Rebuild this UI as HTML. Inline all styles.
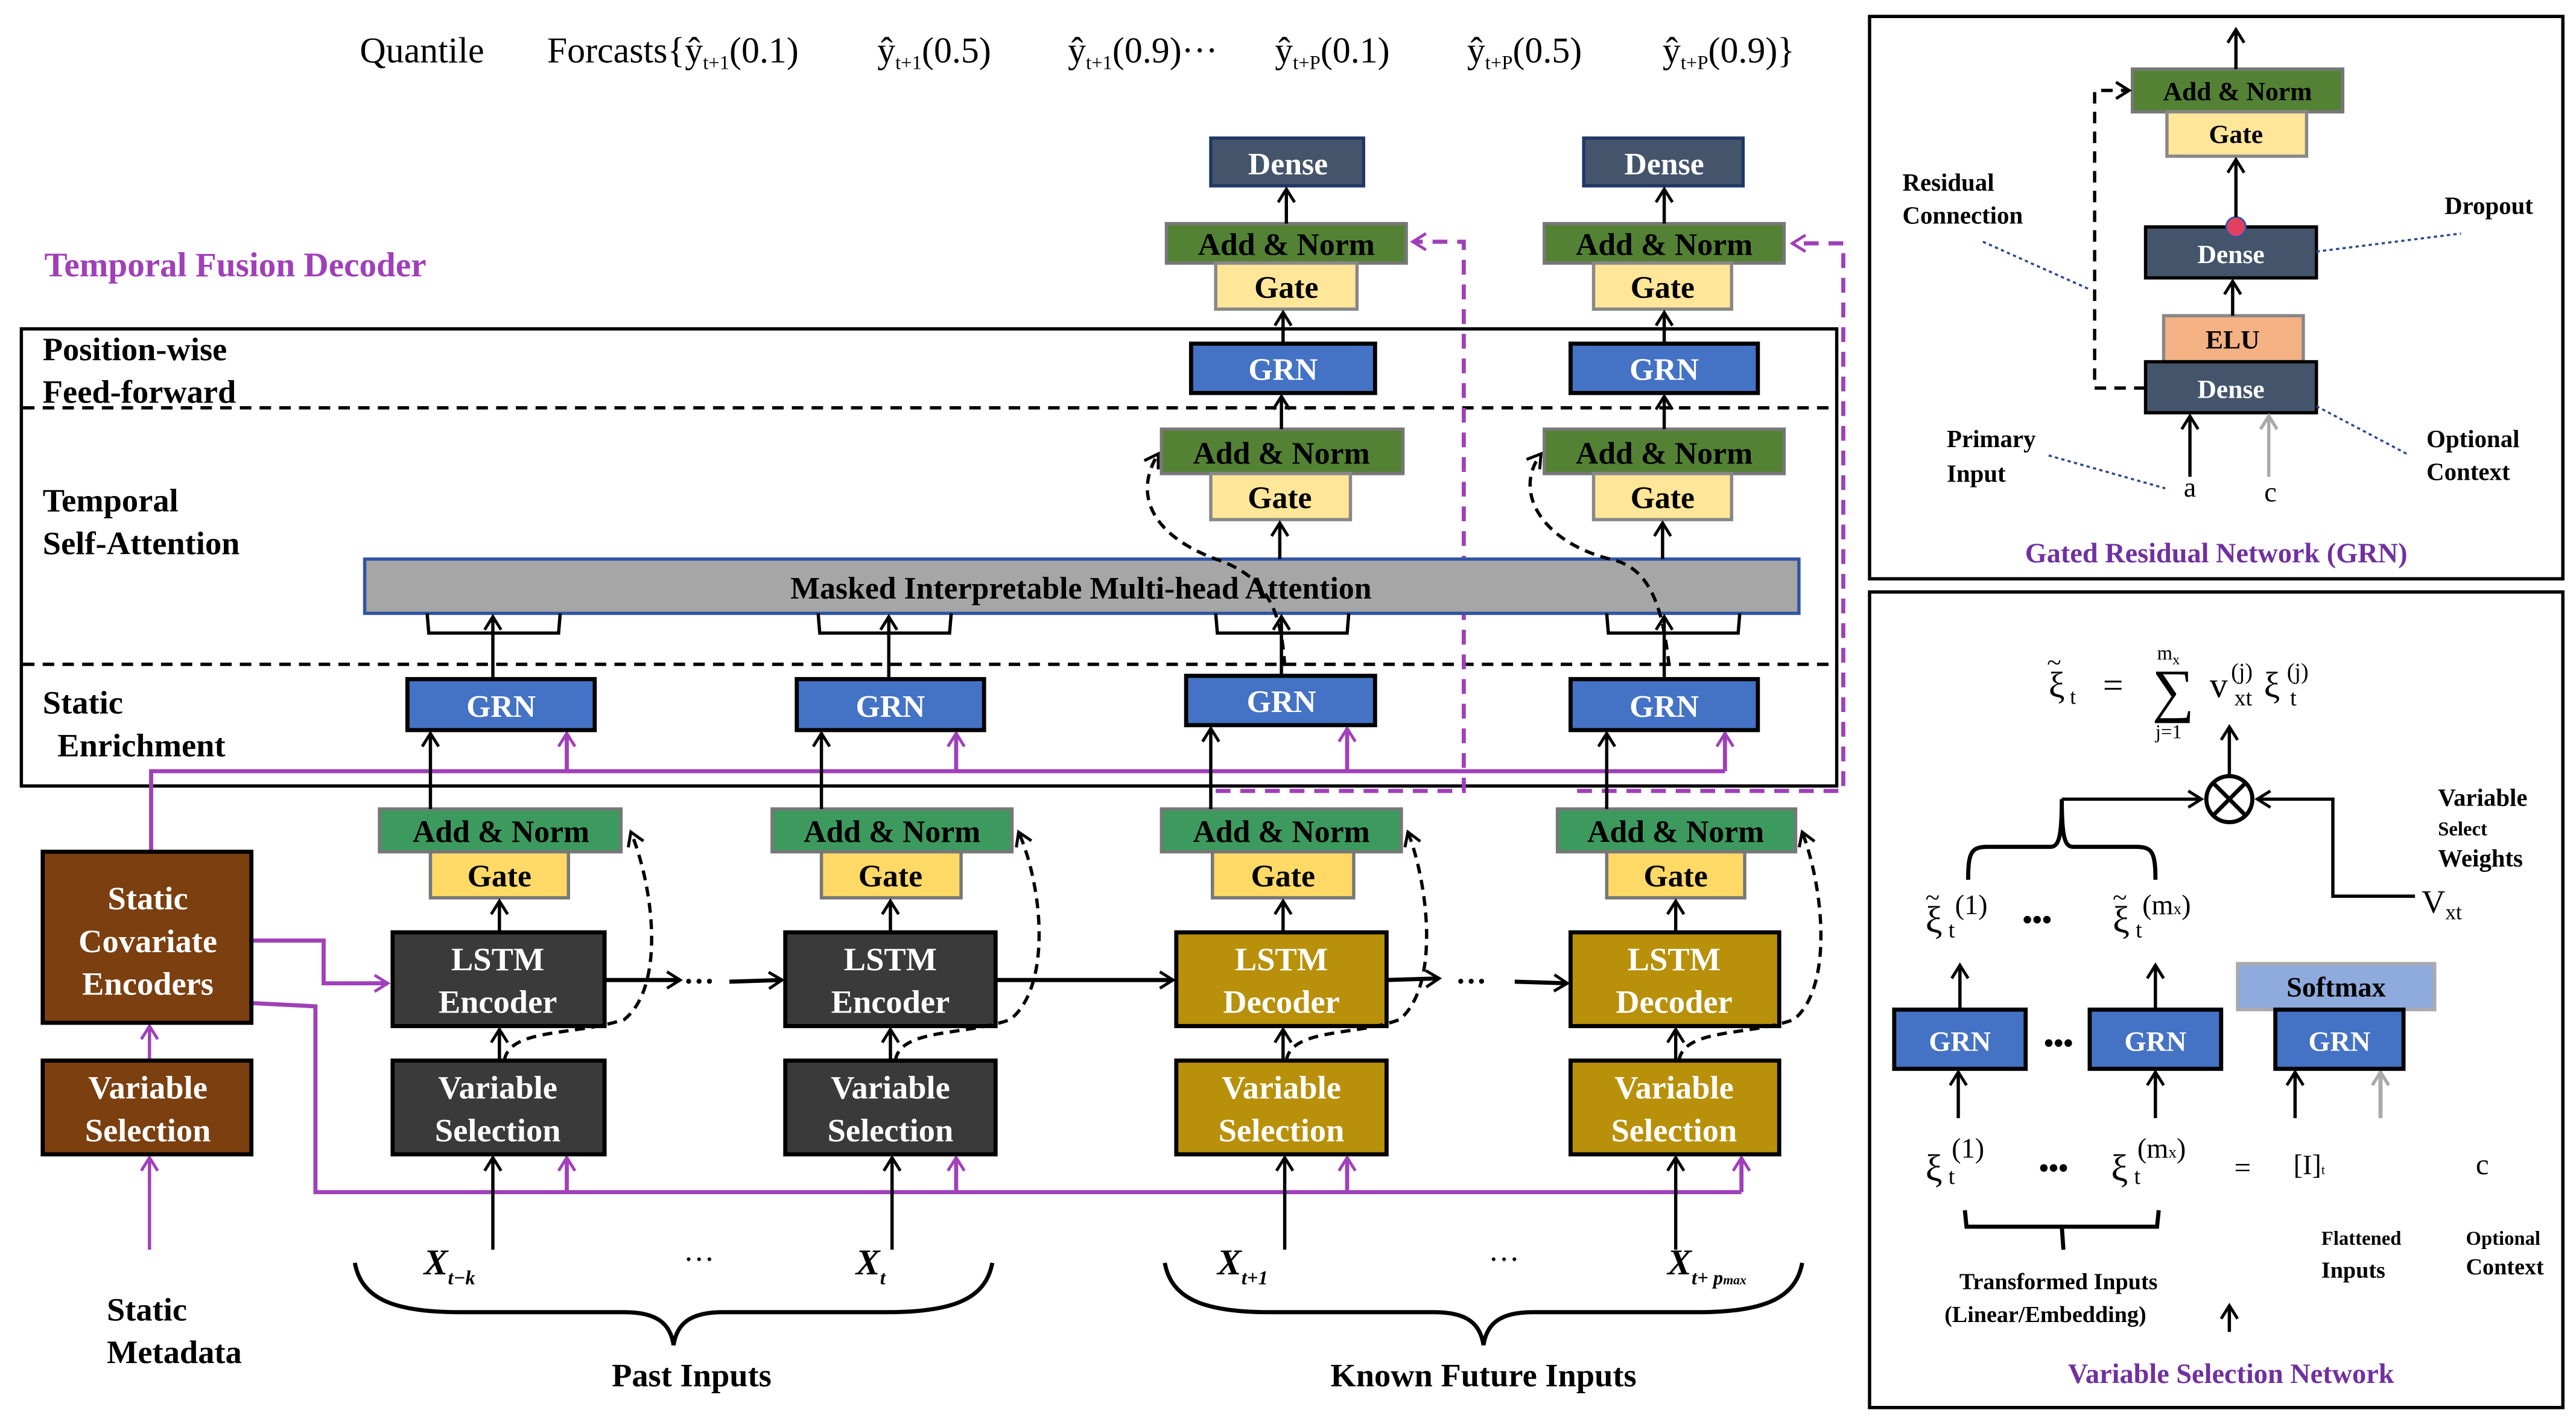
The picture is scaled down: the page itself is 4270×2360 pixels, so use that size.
<!DOCTYPE html>
<html><head><meta charset="utf-8"><style>
html,body{margin:0;padding:0;background:#fff}
svg{display:block}
text{font-family:"Liberation Serif",serif}
.b{font-weight:bold}
</style></head><body>
<svg width="4270" height="2360" viewBox="0 0 1568 866" preserveAspectRatio="none" xmlns="http://www.w3.org/2000/svg">
<defs>
<marker id="a" markerUnits="userSpaceOnUse" markerWidth="12" markerHeight="12" refX="10" refY="6" orient="auto"><path d="M2,1 L10,6 L2,11" fill="none" stroke="#000" stroke-width="1.8"/></marker>
<marker id="m" markerUnits="userSpaceOnUse" markerWidth="12" markerHeight="12" refX="10" refY="6" orient="auto"><path d="M2,1 L10,6 L2,11" fill="none" stroke="#a040b8" stroke-width="1.8"/></marker>
<marker id="g" markerUnits="userSpaceOnUse" markerWidth="12" markerHeight="12" refX="10" refY="6" orient="auto"><path d="M2,1 L10,6 L2,11" fill="none" stroke="#aaa" stroke-width="2"/></marker>
</defs>

<!-- Title row -->
<g font-size="22">
<text x="219" y="38">Quantile</text>
<text x="333" y="38">Forcasts{ŷ<tspan font-size="12" dy="4">t+1</tspan><tspan dy="-4">(0.1)</tspan></text>
<text x="534" y="38">ŷ<tspan font-size="12" dy="4">t+1</tspan><tspan dy="-4">(0.5)</tspan></text>
<text x="650" y="38">ŷ<tspan font-size="12" dy="4">t+1</tspan><tspan dy="-4">(0.9)···</tspan></text>
<text x="776" y="38">ŷ<tspan font-size="12" dy="4">t+P</tspan><tspan dy="-4">(0.1)</tspan></text>
<text x="893" y="38">ŷ<tspan font-size="12" dy="4">t+P</tspan><tspan dy="-4">(0.5)</tspan></text>
<text x="1012" y="38">ŷ<tspan font-size="12" dy="4">t+P</tspan><tspan dy="-4">(0.9)}</tspan></text>
</g>

<text x="27" y="168" class="b" font-size="21" fill="#a040b8">Temporal Fusion Decoder</text>

<!-- big box -->
<rect x="13" y="200" width="1105" height="278" fill="none" stroke="#000" stroke-width="2"/>
<line x1="14" y1="248" x2="1117" y2="248" stroke="#000" stroke-width="2" stroke-dasharray="7,5"/>
<line x1="14" y1="404" x2="1117" y2="404" stroke="#000" stroke-width="2" stroke-dasharray="7,5"/>
<g class="b" font-size="20">
<text x="26" y="219">Position-wise</text><text x="26" y="245">Feed-forward</text>
<text x="26" y="311">Temporal</text><text x="26" y="337">Self-Attention</text>
<text x="26" y="434">Static</text><text x="35" y="460">Enrichment</text>
</g>

<!-- magenta lines -->
<g stroke="#a040b8" stroke-width="2.5" fill="none">
<polyline points="92,518 92,469 1050,469"/>
<line x1="345" y1="469" x2="345" y2="446" marker-end="url(#m)"/>
<line x1="582" y1="469" x2="582" y2="446" marker-end="url(#m)"/>
<line x1="820" y1="469" x2="820" y2="443" marker-end="url(#m)"/>
<line x1="1050" y1="469" x2="1050" y2="446" marker-end="url(#m)"/>
<polyline points="153,572 197,572 197,598 236,598" marker-end="url(#m)"/>
<polyline points="153,610 192,612 192,725 1060,725"/>
<line x1="345" y1="725" x2="345" y2="704" marker-end="url(#m)"/>
<line x1="582" y1="725" x2="582" y2="704" marker-end="url(#m)"/>
<line x1="820" y1="725" x2="820" y2="704" marker-end="url(#m)"/>
<line x1="1060" y1="725" x2="1060" y2="704" marker-end="url(#m)"/>
<line x1="91" y1="760" x2="91" y2="704" stroke-width="2" marker-end="url(#m)"/>
<line x1="91" y1="645" x2="91" y2="624" stroke-width="2" marker-end="url(#m)"/>
</g>
<g stroke="#a040b8" stroke-width="2.5" fill="none" stroke-dasharray="9,6">
<polyline points="740,481 891,481 891,147 860,147" marker-end="url(#m)"/>
<polyline points="960,481 1122,481 1122,148 1091,148" marker-end="url(#m)"/>
</g>

<!-- Top Dense / Add&Norm / Gate / GRN -->
<g>
<rect x="737" y="84" width="93" height="29" fill="#44546a" stroke="#1f3864" stroke-width="2"/>
<rect x="964" y="84" width="97" height="29" fill="#44546a" stroke="#1f3864" stroke-width="2"/>
<rect x="710" y="136" width="146" height="24" fill="#548235" stroke="#777" stroke-width="2"/>
<rect x="940" y="136" width="146" height="24" fill="#548235" stroke="#777" stroke-width="2"/>
<rect x="740" y="160" width="86" height="28" fill="#ffe699" stroke="#888" stroke-width="2"/>
<rect x="970" y="160" width="84" height="28" fill="#ffe699" stroke="#888" stroke-width="2"/>
<rect x="725" y="209" width="112" height="30" fill="#4472c4" stroke="#000" stroke-width="2.5"/>
<rect x="956" y="209" width="114" height="30" fill="#4472c4" stroke="#000" stroke-width="2.5"/>
<rect x="707" y="261" width="147" height="27" fill="#548235" stroke="#777" stroke-width="2"/>
<rect x="940" y="261" width="146" height="27" fill="#548235" stroke="#777" stroke-width="2"/>
<rect x="737" y="288" width="85" height="28" fill="#ffe699" stroke="#888" stroke-width="2"/>
<rect x="970" y="288" width="84" height="28" fill="#ffe699" stroke="#888" stroke-width="2"/>
<rect x="222" y="340" width="873" height="33" fill="#a6a6a6" stroke="#2f55a4" stroke-width="2"/>
</g>
<g class="b" font-size="19" text-anchor="middle">
<text x="784" y="106" fill="#fff">Dense</text><text x="1013" y="106" fill="#fff">Dense</text>
<text x="783" y="155">Add &amp; Norm</text><text x="1013" y="155">Add &amp; Norm</text>
<text x="783" y="181">Gate</text><text x="1012" y="181">Gate</text>
<text x="781" y="231" fill="#fff">GRN</text><text x="1013" y="231" fill="#fff">GRN</text>
<text x="780" y="282">Add &amp; Norm</text><text x="1013" y="282">Add &amp; Norm</text>
<text x="779" y="309">Gate</text><text x="1012" y="309">Gate</text>
<text x="658" y="364">Masked Interpretable Multi-head Attention</text>
</g>
<g stroke="#000" stroke-width="2" fill="none">
<line x1="783" y1="136" x2="783" y2="115" marker-end="url(#a)"/>
<line x1="1013" y1="136" x2="1013" y2="115" marker-end="url(#a)"/>
<line x1="781" y1="209" x2="781" y2="190" marker-end="url(#a)"/>
<line x1="1013" y1="209" x2="1013" y2="190" marker-end="url(#a)"/>
<line x1="780" y1="261" x2="780" y2="241" marker-end="url(#a)"/>
<line x1="1013" y1="261" x2="1013" y2="241" marker-end="url(#a)"/>
<line x1="779" y1="340" x2="779" y2="318" marker-end="url(#a)"/>
<line x1="1012" y1="340" x2="1012" y2="318" marker-end="url(#a)"/>
<polyline points="260,373 261,385 340,385 341,373"/>
<polyline points="498,373 499,385 578,385 579,373"/>
<polyline points="740,373 741,385 820,385 821,373"/>
<polyline points="978,373 979,385 1058,385 1059,373"/>
<line x1="300" y1="413" x2="300" y2="375" marker-end="url(#a)"/>
<line x1="541" y1="413" x2="541" y2="375" marker-end="url(#a)"/>
<line x1="780" y1="411" x2="780" y2="375" marker-end="url(#a)"/>
<line x1="1013" y1="413" x2="1013" y2="375" marker-end="url(#a)"/>
</g>
<g stroke="#000" stroke-width="2" fill="none" stroke-dasharray="6,4">
<path d="M782,405 C780,370 770,350 740,340 C700,325 690,300 705,276" marker-end="url(#a)"/>
<path d="M1016,405 C1012,370 1005,345 980,340 C940,330 920,300 938,276" marker-end="url(#a)"/>
</g>

<!-- Static enrichment GRNs -->
<g fill="#4472c4" stroke="#000" stroke-width="2.5">
<rect x="248" y="413" width="114" height="31"/><rect x="485" y="413" width="114" height="31"/>
<rect x="722" y="411" width="115" height="30"/><rect x="956" y="413" width="114" height="31"/>
</g>
<g class="b" font-size="19" text-anchor="middle" fill="#fff">
<text x="305" y="436">GRN</text><text x="542" y="436">GRN</text><text x="780" y="433">GRN</text><text x="1013" y="436">GRN</text>
</g>

<!-- lower Add&Norm/Gate -->
<g stroke="#777" stroke-width="2">
<rect x="231" y="492" width="147" height="26" fill="#3d9a5e"/><rect x="470" y="492" width="146" height="26" fill="#3d9a5e"/>
<rect x="707" y="492" width="146" height="26" fill="#3d9a5e"/><rect x="948" y="492" width="145" height="26" fill="#3d9a5e"/>
<rect x="262" y="518" width="84" height="28" fill="#ffd966"/><rect x="500" y="518" width="85" height="28" fill="#ffd966"/>
<rect x="738" y="518" width="86" height="28" fill="#ffd966"/><rect x="978" y="518" width="84" height="28" fill="#ffd966"/>
</g>
<g class="b" font-size="19" text-anchor="middle">
<text x="305" y="512">Add &amp; Norm</text><text x="543" y="512">Add &amp; Norm</text><text x="780" y="512">Add &amp; Norm</text><text x="1020" y="512">Add &amp; Norm</text>
<text x="304" y="539">Gate</text><text x="542" y="539">Gate</text><text x="781" y="539">Gate</text><text x="1020" y="539">Gate</text>
</g>

<!-- LSTM & Variable Selection -->
<g stroke="#000" stroke-width="2.5">
<rect x="239" y="567" width="129" height="57" fill="#3a3a3a"/><rect x="478" y="567" width="128" height="57" fill="#3a3a3a"/>
<rect x="716" y="567" width="128" height="57" fill="#b8900a"/><rect x="956" y="567" width="127" height="57" fill="#b8900a"/>
<rect x="239" y="645" width="129" height="57" fill="#3a3a3a"/><rect x="478" y="645" width="128" height="57" fill="#3a3a3a"/>
<rect x="716" y="645" width="128" height="57" fill="#b8900a"/><rect x="956" y="645" width="127" height="57" fill="#b8900a"/>
<rect x="26" y="518" width="127" height="104" fill="#7b3f10"/><rect x="26" y="645" width="127" height="57" fill="#7b3f10"/>
</g>
<g class="b" font-size="20" text-anchor="middle" fill="#fff">
<text x="303" y="590">LSTM</text><text x="303" y="616">Encoder</text>
<text x="542" y="590">LSTM</text><text x="542" y="616">Encoder</text>
<text x="780" y="590">LSTM</text><text x="780" y="616">Decoder</text>
<text x="1019" y="590">LSTM</text><text x="1019" y="616">Decoder</text>
<text x="303" y="668">Variable</text><text x="303" y="694">Selection</text>
<text x="542" y="668">Variable</text><text x="542" y="694">Selection</text>
<text x="780" y="668">Variable</text><text x="780" y="694">Selection</text>
<text x="1019" y="668">Variable</text><text x="1019" y="694">Selection</text>
<text x="90" y="553">Static</text><text x="90" y="579">Covariate</text><text x="90" y="605">Encoders</text>
<text x="90" y="668">Variable</text><text x="90" y="694">Selection</text>
</g>
<g stroke="#000" stroke-width="2" fill="none">
<line x1="262" y1="492" x2="262" y2="446" marker-end="url(#a)"/>
<line x1="500" y1="492" x2="500" y2="446" marker-end="url(#a)"/>
<line x1="737" y1="492" x2="737" y2="443" marker-end="url(#a)"/>
<line x1="978" y1="492" x2="978" y2="446" marker-end="url(#a)"/>
<line x1="304" y1="567" x2="304" y2="548" marker-end="url(#a)"/>
<line x1="542" y1="567" x2="542" y2="548" marker-end="url(#a)"/>
<line x1="781" y1="567" x2="781" y2="548" marker-end="url(#a)"/>
<line x1="1020" y1="567" x2="1020" y2="548" marker-end="url(#a)"/>
<line x1="304" y1="645" x2="304" y2="626" marker-end="url(#a)"/>
<line x1="542" y1="645" x2="542" y2="626" marker-end="url(#a)"/>
<line x1="781" y1="645" x2="781" y2="626" marker-end="url(#a)"/>
<line x1="1020" y1="645" x2="1020" y2="626" marker-end="url(#a)"/>
<line x1="300" y1="760" x2="300" y2="704" marker-end="url(#a)"/>
<line x1="543" y1="760" x2="543" y2="704" marker-end="url(#a)"/>
<line x1="782" y1="760" x2="782" y2="704" marker-end="url(#a)"/>
<line x1="1020" y1="760" x2="1020" y2="704" marker-end="url(#a)"/>
<line x1="368" y1="596" x2="414" y2="596" stroke-width="2.5" marker-end="url(#a)"/>
<line x1="444" y1="597" x2="476" y2="596" stroke-width="2.5" marker-end="url(#a)"/>
<line x1="606" y1="596" x2="714" y2="596" stroke-width="2.5" marker-end="url(#a)"/>
<line x1="844" y1="596" x2="876" y2="595" stroke-width="2.5" marker-end="url(#a)"/>
<line x1="922" y1="597" x2="954" y2="598" stroke-width="2.5" marker-end="url(#a)"/>
</g>
<g font-size="19" class="b"><text x="416" y="603">···</text><text x="886" y="603">···</text></g>
<g stroke="#000" stroke-width="2" fill="none" stroke-dasharray="6,4">
<path d="M307,645 C310,625 350,630 380,620 C405,600 398,540 384,506" marker-end="url(#a)"/>
<path d="M545,645 C548,625 588,630 615,620 C640,600 635,540 620,506" marker-end="url(#a)"/>
<path d="M783,645 C786,625 826,630 852,620 C876,600 870,540 857,506" marker-end="url(#a)"/>
<path d="M1022,645 C1025,625 1065,630 1092,620 C1116,600 1110,540 1097,506" marker-end="url(#a)"/>
</g>

<!-- inputs -->
<g font-size="22" font-style="italic" class="b">
<text x="258" y="775">X<tspan font-size="12" dy="6">t−k</tspan></text>
<text x="521" y="775">X<tspan font-size="12" dy="6">t</tspan></text>
<text x="741" y="775">X<tspan font-size="12" dy="6">t+1</tspan></text>
<text x="1015" y="775">X<tspan font-size="12" dy="6">t+ p<tspan font-size="8">max</tspan></tspan></text>
</g>
<g font-size="19"><text x="416" y="772">···</text><text x="906" y="772">···</text></g>
<g stroke="#000" stroke-width="2.5" fill="none">
<path d="M216,768 C220,790 240,798 280,798 L380,798 C400,798 408,805 410,818 C412,805 420,798 440,798 L540,798 C580,798 600,790 604,768"/>
<path d="M709,768 C713,790 733,798 773,798 L873,798 C893,798 901,805 903,818 C905,805 913,798 933,798 L1033,798 C1073,798 1093,790 1097,768"/>
</g>
<g class="b" font-size="20">
<text x="421" y="843" text-anchor="middle">Past Inputs</text>
<text x="903" y="843" text-anchor="middle">Known Future Inputs</text>
<text x="65" y="803">Static</text><text x="65" y="829">Metadata</text>
</g>

<!-- GRN panel -->
<rect x="1138" y="10" width="422" height="342" fill="none" stroke="#000" stroke-width="2"/>
<rect x="1298" y="42" width="128" height="26" fill="#548235" stroke="#777" stroke-width="2"/>
<rect x="1319" y="68" width="85" height="27" fill="#ffe699" stroke="#888" stroke-width="2"/>
<rect x="1306" y="138" width="104" height="31" fill="#44546a" stroke="#000" stroke-width="2"/>
<rect x="1317" y="192" width="85" height="28" fill="#f4b183" stroke="#888" stroke-width="2"/>
<rect x="1306" y="220" width="104" height="31" fill="#44546a" stroke="#000" stroke-width="2"/>
<circle cx="1361" cy="138" r="6" fill="#e04060" stroke="#2f55a4" stroke-width="1"/>
<g class="b" font-size="16" text-anchor="middle">
<text x="1362" y="61">Add &amp; Norm</text><text x="1361" y="87">Gate</text>
<text x="1358" y="160" fill="#fff">Dense</text><text x="1359" y="212">ELU</text>
<text x="1358" y="242" fill="#fff">Dense</text>
</g>
<g stroke="#000" stroke-width="2" fill="none">
<line x1="1361" y1="42" x2="1361" y2="18" marker-end="url(#a)"/>
<line x1="1361" y1="132" x2="1361" y2="97" marker-end="url(#a)"/>
<line x1="1359" y1="192" x2="1359" y2="171" marker-end="url(#a)"/>
<line x1="1333" y1="290" x2="1333" y2="253" marker-end="url(#a)"/>
<polyline points="1306,236 1275,236 1275,55 1296,55" stroke-dasharray="7,5" marker-end="url(#a)"/>
</g>
<line x1="1381" y1="290" x2="1381" y2="253" stroke="#aaa" stroke-width="2" marker-end="url(#g)"/>
<g stroke="#2f4a8a" stroke-width="1.3" stroke-dasharray="2,2">
<line x1="1207" y1="147" x2="1272" y2="176"/><line x1="1410" y1="153" x2="1498" y2="142"/>
<line x1="1247" y1="277" x2="1318" y2="297"/><line x1="1410" y1="247" x2="1465" y2="276"/>
</g>
<g class="b" font-size="15">
<text x="1158" y="116">Residual</text><text x="1158" y="136">Connection</text>
<text x="1488" y="130">Dropout</text>
<text x="1185" y="272">Primary</text><text x="1185" y="293">Input</text>
<text x="1477" y="272">Optional</text><text x="1477" y="292">Context</text>
</g>
<text x="1333" y="302" font-size="17" text-anchor="middle">a</text>
<text x="1382" y="305" font-size="17" text-anchor="middle">c</text>
<text x="1349" y="342" class="b" font-size="17" fill="#7030a0" text-anchor="middle">Gated Residual Network (GRN)</text>

<!-- VSN panel -->
<rect x="1138" y="360" width="422" height="496" fill="none" stroke="#000" stroke-width="2"/>
<g font-size="22">
<text x="1247" y="424">ξ</text><text x="1246" y="408" font-size="16">~</text><text x="1260" y="428" font-size="13">t</text>
<text x="1280" y="424">=</text>
<text x="1310" y="432" font-size="36">∑</text>
<text x="1313" y="401" font-size="12">m<tspan font-size="9" dy="3">x</tspan></text>
<text x="1312" y="449" font-size="12">j=1</text>
<text x="1345" y="424">v</text>
<text x="1358" y="413" font-size="14">(j)</text><text x="1360" y="429" font-size="14">xt</text>
<text x="1378" y="424">ξ</text>
<text x="1392" y="413" font-size="14">(j)</text><text x="1394" y="429" font-size="14">t</text>
</g>
<circle cx="1357" cy="486" r="14" fill="none" stroke="#000" stroke-width="2.5"/>
<g stroke="#000" stroke-width="2.5" fill="none">
<line x1="1347" y1="476" x2="1367" y2="496"/><line x1="1367" y1="476" x2="1347" y2="496"/>
<line x1="1357" y1="472" x2="1357" y2="442" stroke-width="2" marker-end="url(#a)"/>
<polyline points="1470,545 1420,545 1420,486 1374,486" stroke-width="2" marker-end="url(#a)"/>
<line x1="1255" y1="486" x2="1340" y2="486" stroke-width="2" marker-end="url(#a)"/>
<path d="M1198,535 C1198,518 1200,515 1210,515 L1248,515 C1253,515 1255,510 1255,486 C1255,510 1257,515 1262,515 L1300,515 C1310,515 1312,518 1312,535"/>
<line x1="1193" y1="614" x2="1193" y2="587" stroke-width="2" marker-end="url(#a)"/>
<line x1="1312" y1="614" x2="1312" y2="587" stroke-width="2" marker-end="url(#a)"/>
<line x1="1192" y1="680" x2="1192" y2="652" stroke-width="2" marker-end="url(#a)"/>
<line x1="1312" y1="680" x2="1312" y2="652" stroke-width="2" marker-end="url(#a)"/>
<line x1="1397" y1="680" x2="1397" y2="652" stroke-width="2" marker-end="url(#a)"/>
<path d="M1196,736 L1197,746 L1255,746 L1256,760 M1255,746 L1313,746 L1314,736"/>
<line x1="1357" y1="810" x2="1357" y2="794" stroke-width="2" marker-end="url(#a)"/>
</g>
<line x1="1449" y1="680" x2="1449" y2="652" stroke="#aaa" stroke-width="2.5" marker-end="url(#g)"/>
<rect x="1362" y="586" width="120" height="28" fill="#8faadc" stroke="#aaa" stroke-width="2"/>
<rect x="1153" y="614" width="80" height="36" fill="#4472c4" stroke="#000" stroke-width="2.5"/>
<rect x="1272" y="614" width="80" height="36" fill="#4472c4" stroke="#000" stroke-width="2.5"/>
<rect x="1385" y="614" width="78" height="36" fill="#4472c4" stroke="#000" stroke-width="2.5"/>
<g class="b" font-size="17" text-anchor="middle">
<text x="1422" y="606">Softmax</text>
<text x="1193" y="639" fill="#fff">GRN</text><text x="1312" y="639" fill="#fff">GRN</text><text x="1424" y="639" fill="#fff">GRN</text>
<text x="1253" y="640">•••</text>
<text x="1240" y="565">•••</text><text x="1250" y="716">•••</text>
</g>
<g font-size="23">
<text x="1172" y="567">ξ</text><text x="1172" y="551" font-size="16">~</text><text x="1186" y="570" font-size="14">t</text><text x="1190" y="556" font-size="17">(1)</text>
<text x="1286" y="567">ξ</text><text x="1286" y="551" font-size="16">~</text><text x="1300" y="570" font-size="14">t</text><text x="1304" y="556" font-size="17">(m<tspan font-size="10">x</tspan>)</text>
<text x="1172" y="718">ξ</text><text x="1186" y="720" font-size="14">t</text><text x="1188" y="704" font-size="17">(1)</text>
<text x="1285" y="718">ξ</text><text x="1299" y="720" font-size="14">t</text><text x="1301" y="704" font-size="17">(m<tspan font-size="10">x</tspan>)</text>
<text x="1360" y="716" font-size="18">=</text>
<text x="1396" y="714" font-size="17">[I]<tspan font-size="8">t</tspan></text>
<text x="1507" y="714" font-size="18">c</text>
<text x="1474" y="555" font-size="20">V<tspan font-size="13" dy="4">xt</tspan></text>
</g>
<g class="b" font-size="14">
<text x="1484" y="490" font-size="15">Variable</text><text x="1484" y="508" font-size="12">Select</text><text x="1484" y="527" font-size="15">Weights</text>
<text x="1413" y="757" font-size="12">Flattened</text><text x="1413" y="777">Inputs</text>
<text x="1501" y="757" font-size="12">Optional</text><text x="1501" y="775">Context</text>
<text x="1253" y="784" text-anchor="middle">Transformed Inputs</text>
<text x="1245" y="804" text-anchor="middle">(Linear/Embedding)</text>
</g>
<text x="1358" y="841" class="b" font-size="17" fill="#7030a0" text-anchor="middle">Variable Selection Network</text>
</svg>
</body></html>
